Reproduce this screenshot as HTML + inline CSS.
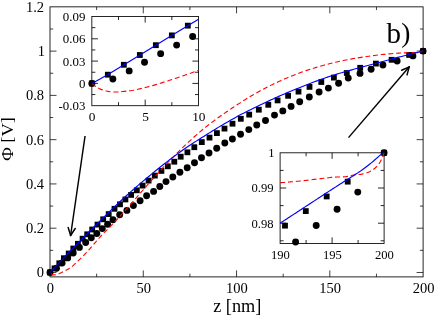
<!DOCTYPE html>
<html><head><meta charset="utf-8"><title>chart</title>
<style>html,body{margin:0;padding:0;background:#fff;}body{width:436px;height:316px;position:relative;overflow:hidden;font-family:"Liberation Serif",serif;}</style></head>
<body>
<svg width="436" height="316" viewBox="0 0 436 316" style="position:absolute;left:0;top:0;will-change:transform;font-family:'Liberation Serif',serif;">
<rect x="0" y="0" width="436" height="316" fill="#fff"/>
<rect x="50.0" y="6.85" width="373.10" height="270.05" fill="none" stroke="#000" stroke-width="0.85"/>
<line x1="50.00" y1="272.47" x2="56.50" y2="272.47" stroke="#000" stroke-width="0.75" />
<line x1="423.10" y1="272.47" x2="416.60" y2="272.47" stroke="#000" stroke-width="0.75" />
<line x1="50.00" y1="250.34" x2="53.20" y2="250.34" stroke="#000" stroke-width="0.75" />
<line x1="423.10" y1="250.34" x2="419.90" y2="250.34" stroke="#000" stroke-width="0.75" />
<line x1="50.00" y1="228.20" x2="56.50" y2="228.20" stroke="#000" stroke-width="0.75" />
<line x1="423.10" y1="228.20" x2="416.60" y2="228.20" stroke="#000" stroke-width="0.75" />
<line x1="50.00" y1="206.07" x2="53.20" y2="206.07" stroke="#000" stroke-width="0.75" />
<line x1="423.10" y1="206.07" x2="419.90" y2="206.07" stroke="#000" stroke-width="0.75" />
<line x1="50.00" y1="183.93" x2="56.50" y2="183.93" stroke="#000" stroke-width="0.75" />
<line x1="423.10" y1="183.93" x2="416.60" y2="183.93" stroke="#000" stroke-width="0.75" />
<line x1="50.00" y1="161.80" x2="53.20" y2="161.80" stroke="#000" stroke-width="0.75" />
<line x1="423.10" y1="161.80" x2="419.90" y2="161.80" stroke="#000" stroke-width="0.75" />
<line x1="50.00" y1="139.66" x2="56.50" y2="139.66" stroke="#000" stroke-width="0.75" />
<line x1="423.10" y1="139.66" x2="416.60" y2="139.66" stroke="#000" stroke-width="0.75" />
<line x1="50.00" y1="117.53" x2="53.20" y2="117.53" stroke="#000" stroke-width="0.75" />
<line x1="423.10" y1="117.53" x2="419.90" y2="117.53" stroke="#000" stroke-width="0.75" />
<line x1="50.00" y1="95.39" x2="56.50" y2="95.39" stroke="#000" stroke-width="0.75" />
<line x1="423.10" y1="95.39" x2="416.60" y2="95.39" stroke="#000" stroke-width="0.75" />
<line x1="50.00" y1="73.25" x2="53.20" y2="73.25" stroke="#000" stroke-width="0.75" />
<line x1="423.10" y1="73.25" x2="419.90" y2="73.25" stroke="#000" stroke-width="0.75" />
<line x1="50.00" y1="51.12" x2="56.50" y2="51.12" stroke="#000" stroke-width="0.75" />
<line x1="423.10" y1="51.12" x2="416.60" y2="51.12" stroke="#000" stroke-width="0.75" />
<line x1="50.00" y1="28.99" x2="53.20" y2="28.99" stroke="#000" stroke-width="0.75" />
<line x1="423.10" y1="28.99" x2="419.90" y2="28.99" stroke="#000" stroke-width="0.75" />
<line x1="96.64" y1="276.90" x2="96.64" y2="273.70" stroke="#000" stroke-width="0.75" />
<line x1="96.64" y1="6.85" x2="96.64" y2="10.05" stroke="#000" stroke-width="0.75" />
<line x1="143.28" y1="276.90" x2="143.28" y2="270.40" stroke="#000" stroke-width="0.75" />
<line x1="143.28" y1="6.85" x2="143.28" y2="13.35" stroke="#000" stroke-width="0.75" />
<line x1="189.91" y1="276.90" x2="189.91" y2="273.70" stroke="#000" stroke-width="0.75" />
<line x1="189.91" y1="6.85" x2="189.91" y2="10.05" stroke="#000" stroke-width="0.75" />
<line x1="236.55" y1="276.90" x2="236.55" y2="270.40" stroke="#000" stroke-width="0.75" />
<line x1="236.55" y1="6.85" x2="236.55" y2="13.35" stroke="#000" stroke-width="0.75" />
<line x1="283.19" y1="276.90" x2="283.19" y2="273.70" stroke="#000" stroke-width="0.75" />
<line x1="283.19" y1="6.85" x2="283.19" y2="10.05" stroke="#000" stroke-width="0.75" />
<line x1="329.82" y1="276.90" x2="329.82" y2="270.40" stroke="#000" stroke-width="0.75" />
<line x1="329.82" y1="6.85" x2="329.82" y2="13.35" stroke="#000" stroke-width="0.75" />
<line x1="376.46" y1="276.90" x2="376.46" y2="273.70" stroke="#000" stroke-width="0.75" />
<line x1="376.46" y1="6.85" x2="376.46" y2="10.05" stroke="#000" stroke-width="0.75" />
<text x="44.1" y="277.37" font-size="14.5" text-anchor="end" fill="#000">0</text>
<text x="44.1" y="233.10" font-size="14.5" text-anchor="end" fill="#000">0.2</text>
<text x="44.1" y="188.83" font-size="14.5" text-anchor="end" fill="#000">0.4</text>
<text x="44.1" y="144.56" font-size="14.5" text-anchor="end" fill="#000">0.6</text>
<text x="44.1" y="100.29" font-size="14.5" text-anchor="end" fill="#000">0.8</text>
<text x="44.9" y="56.02" font-size="14.5" text-anchor="end" fill="#000">1</text>
<text x="44.1" y="11.75" font-size="14.5" text-anchor="end" fill="#000">1.2</text>
<text x="50.40" y="293.0" font-size="14.5" text-anchor="middle" fill="#000">0</text>
<text x="143.68" y="293.0" font-size="14.5" text-anchor="middle" fill="#000">50</text>
<text x="236.95" y="293.0" font-size="14.5" text-anchor="middle" fill="#000">100</text>
<text x="330.22" y="293.0" font-size="14.5" text-anchor="middle" fill="#000">150</text>
<text x="423.50" y="293.0" font-size="14.5" text-anchor="middle" fill="#000">200</text>
<text x="237.3" y="311.7" font-size="18.3" text-anchor="middle" fill="#000">z [nm]</text>
<text transform="translate(12.65,139.0) rotate(-90) scale(1.05,1)" font-size="17.6" text-anchor="middle" fill="#000">&#934; [V]</text>
<text x="386.6" y="43.0" font-size="29" fill="#000">b</text>
<text x="401.3" y="42.2" font-size="27.5" fill="#000">)</text>
<rect x="47.10" y="269.57" width="5.8" height="5.8" fill="#000"/>
<rect x="51.60" y="265.50" width="5.8" height="5.8" fill="#000"/>
<rect x="56.40" y="260.40" width="5.8" height="5.8" fill="#000"/>
<rect x="61.00" y="255.30" width="5.8" height="5.8" fill="#000"/>
<rect x="65.80" y="250.60" width="5.8" height="5.8" fill="#000"/>
<rect x="70.40" y="245.60" width="5.8" height="5.8" fill="#000"/>
<rect x="75.00" y="240.90" width="5.8" height="5.8" fill="#000"/>
<rect x="79.70" y="235.80" width="5.8" height="5.8" fill="#000"/>
<rect x="84.30" y="231.40" width="5.8" height="5.8" fill="#000"/>
<rect x="89.30" y="226.60" width="5.8" height="5.8" fill="#000"/>
<rect x="94.60" y="221.70" width="5.8" height="5.8" fill="#000"/>
<rect x="100.30" y="216.40" width="5.8" height="5.8" fill="#000"/>
<rect x="105.80" y="211.20" width="5.8" height="5.8" fill="#000"/>
<rect x="111.60" y="205.90" width="5.8" height="5.8" fill="#000"/>
<rect x="117.10" y="201.40" width="5.8" height="5.8" fill="#000"/>
<rect x="122.50" y="196.55" width="5.8" height="5.8" fill="#000"/>
<rect x="128.20" y="192.00" width="5.8" height="5.8" fill="#000"/>
<rect x="133.90" y="187.40" width="5.8" height="5.8" fill="#000"/>
<rect x="139.70" y="182.70" width="5.8" height="5.8" fill="#000"/>
<rect x="145.70" y="177.70" width="5.8" height="5.8" fill="#000"/>
<rect x="151.90" y="172.70" width="5.8" height="5.8" fill="#000"/>
<rect x="158.50" y="168.00" width="5.8" height="5.8" fill="#000"/>
<rect x="164.90" y="163.40" width="5.8" height="5.8" fill="#000"/>
<rect x="171.40" y="158.80" width="5.8" height="5.8" fill="#000"/>
<rect x="177.80" y="153.80" width="5.8" height="5.8" fill="#000"/>
<rect x="184.50" y="149.40" width="5.8" height="5.8" fill="#000"/>
<rect x="191.40" y="144.30" width="5.8" height="5.8" fill="#000"/>
<rect x="198.90" y="139.20" width="5.8" height="5.8" fill="#000"/>
<rect x="206.60" y="134.70" width="5.8" height="5.8" fill="#000"/>
<rect x="214.00" y="130.20" width="5.8" height="5.8" fill="#000"/>
<rect x="221.60" y="125.70" width="5.8" height="5.8" fill="#000"/>
<rect x="229.60" y="120.80" width="5.8" height="5.8" fill="#000"/>
<rect x="237.90" y="115.90" width="5.8" height="5.8" fill="#000"/>
<rect x="246.30" y="111.70" width="5.8" height="5.8" fill="#000"/>
<rect x="255.90" y="106.80" width="5.8" height="5.8" fill="#000"/>
<rect x="265.40" y="101.90" width="5.8" height="5.8" fill="#000"/>
<rect x="274.70" y="97.50" width="5.8" height="5.8" fill="#000"/>
<rect x="285.20" y="92.90" width="5.8" height="5.8" fill="#000"/>
<rect x="295.60" y="88.70" width="5.8" height="5.8" fill="#000"/>
<rect x="306.60" y="84.00" width="5.8" height="5.8" fill="#000"/>
<rect x="318.40" y="79.10" width="5.8" height="5.8" fill="#000"/>
<rect x="331.00" y="74.70" width="5.8" height="5.8" fill="#000"/>
<rect x="343.90" y="70.10" width="5.8" height="5.8" fill="#000"/>
<rect x="357.30" y="64.90" width="5.8" height="5.8" fill="#000"/>
<rect x="373.00" y="60.70" width="5.8" height="5.8" fill="#000"/>
<rect x="388.70" y="56.90" width="5.8" height="5.8" fill="#000"/>
<rect x="406.20" y="52.00" width="5.8" height="5.8" fill="#000"/>
<rect x="420.20" y="48.20" width="5.8" height="5.8" fill="#000"/>
<circle cx="50.00" cy="272.47" r="3.45" fill="#000"/>
<circle cx="56.50" cy="268.20" r="3.45" fill="#000"/>
<circle cx="62.10" cy="263.00" r="3.45" fill="#000"/>
<circle cx="67.70" cy="257.90" r="3.45" fill="#000"/>
<circle cx="73.20" cy="253.00" r="3.45" fill="#000"/>
<circle cx="79.40" cy="247.40" r="3.45" fill="#000"/>
<circle cx="85.70" cy="242.50" r="3.45" fill="#000"/>
<circle cx="91.30" cy="237.70" r="3.45" fill="#000"/>
<circle cx="96.80" cy="233.50" r="3.45" fill="#000"/>
<circle cx="102.30" cy="228.60" r="3.45" fill="#000"/>
<circle cx="107.60" cy="224.20" r="3.45" fill="#000"/>
<circle cx="113.00" cy="219.70" r="3.45" fill="#000"/>
<circle cx="119.70" cy="214.80" r="3.45" fill="#000"/>
<circle cx="126.90" cy="210.40" r="3.45" fill="#000"/>
<circle cx="133.40" cy="205.60" r="3.45" fill="#000"/>
<circle cx="140.10" cy="200.70" r="3.45" fill="#000"/>
<circle cx="146.60" cy="195.80" r="3.45" fill="#000"/>
<circle cx="153.60" cy="191.40" r="3.45" fill="#000"/>
<circle cx="159.80" cy="186.50" r="3.45" fill="#000"/>
<circle cx="166.00" cy="181.60" r="3.45" fill="#000"/>
<circle cx="172.80" cy="177.00" r="3.45" fill="#000"/>
<circle cx="179.90" cy="172.30" r="3.45" fill="#000"/>
<circle cx="187.20" cy="167.70" r="3.45" fill="#000"/>
<circle cx="194.50" cy="162.80" r="3.45" fill="#000"/>
<circle cx="201.50" cy="157.80" r="3.45" fill="#000"/>
<circle cx="209.00" cy="153.00" r="3.45" fill="#000"/>
<circle cx="216.70" cy="148.20" r="3.45" fill="#000"/>
<circle cx="224.80" cy="143.00" r="3.45" fill="#000"/>
<circle cx="232.40" cy="139.00" r="3.45" fill="#000"/>
<circle cx="240.55" cy="134.20" r="3.45" fill="#000"/>
<circle cx="248.80" cy="129.60" r="3.45" fill="#000"/>
<circle cx="256.75" cy="125.00" r="3.45" fill="#000"/>
<circle cx="265.50" cy="120.50" r="3.45" fill="#000"/>
<circle cx="274.50" cy="115.10" r="3.45" fill="#000"/>
<circle cx="282.80" cy="110.90" r="3.45" fill="#000"/>
<circle cx="291.10" cy="106.40" r="3.45" fill="#000"/>
<circle cx="299.70" cy="101.80" r="3.45" fill="#000"/>
<circle cx="309.30" cy="97.00" r="3.45" fill="#000"/>
<circle cx="319.10" cy="92.00" r="3.45" fill="#000"/>
<circle cx="328.40" cy="88.10" r="3.45" fill="#000"/>
<circle cx="338.60" cy="83.20" r="3.45" fill="#000"/>
<circle cx="348.25" cy="78.10" r="3.45" fill="#000"/>
<circle cx="360.00" cy="73.40" r="3.45" fill="#000"/>
<circle cx="371.10" cy="69.20" r="3.45" fill="#000"/>
<circle cx="382.90" cy="65.05" r="3.45" fill="#000"/>
<circle cx="397.15" cy="61.00" r="3.45" fill="#000"/>
<circle cx="412.90" cy="55.90" r="3.45" fill="#000"/>
<circle cx="423.10" cy="51.10" r="3.45" fill="#000"/>
<path d="M50.00,272.47 L51.87,274.19 L53.75,274.90 L55.62,274.74 L57.50,274.33 L59.37,273.55 L61.25,272.67 L63.12,271.75 L65.00,270.80 L66.87,269.84 L68.75,268.81 L70.62,267.60 L72.50,266.10 L74.37,264.40 L76.25,262.61 L78.12,260.82 L80.00,259.04 L81.87,257.21 L83.75,255.33 L85.62,253.40 L87.50,251.38 L89.37,249.28 L91.25,247.13 L93.12,244.97 L95.00,242.84 L96.87,240.67 L98.75,238.51 L100.62,236.39 L102.50,234.36 L104.37,232.43 L106.25,230.56 L108.12,228.70 L110.00,226.80 L111.87,224.87 L113.75,222.92 L115.62,220.96 L117.50,218.96 L119.37,216.93 L121.25,214.84 L123.12,212.73 L124.99,210.62 L126.87,208.50 L128.74,206.39 L130.62,204.26 L132.49,202.13 L134.37,200.00 L136.24,197.87 L138.12,195.73 L139.99,193.59 L141.87,191.45 L143.74,189.29 L145.62,187.13 L147.49,184.96 L149.37,182.81 L151.24,180.68 L153.12,178.56 L154.99,176.45 L156.87,174.36 L158.74,172.29 L160.62,170.24 L162.49,168.20 L164.37,166.18 L166.24,164.19 L168.12,162.21 L169.99,160.25 L171.87,158.32 L173.74,156.40 L175.62,154.51 L177.49,152.63 L179.37,150.78 L181.24,148.94 L183.12,147.14 L184.99,145.35 L186.87,143.59 L188.74,141.85 L190.62,140.13 L192.49,138.42 L194.37,136.74 L196.24,135.08 L198.12,133.45 L199.99,131.84 L201.86,130.26 L203.74,128.71 L205.61,127.19 L207.49,125.70 L209.36,124.25 L211.24,122.83 L213.11,121.42 L214.99,120.03 L216.86,118.66 L218.74,117.30 L220.61,115.96 L222.49,114.64 L224.36,113.34 L226.24,112.06 L228.11,110.79 L229.99,109.53 L231.86,108.28 L233.74,107.03 L235.61,105.80 L237.49,104.57 L239.36,103.35 L241.24,102.14 L243.11,100.93 L244.99,99.74 L246.86,98.58 L248.74,97.43 L250.61,96.29 L252.49,95.18 L254.36,94.09 L256.24,93.02 L258.11,91.97 L259.99,90.94 L261.86,89.93 L263.74,88.94 L265.61,87.96 L267.49,86.99 L269.36,86.05 L271.24,85.12 L273.11,84.21 L274.98,83.31 L276.86,82.43 L278.73,81.57 L280.61,80.72 L282.48,79.88 L284.36,79.06 L286.23,78.26 L288.11,77.47 L289.98,76.70 L291.86,75.94 L293.73,75.19 L295.61,74.46 L297.48,73.74 L299.36,73.04 L301.23,72.35 L303.11,71.68 L304.98,71.02 L306.86,70.37 L308.73,69.74 L310.61,69.12 L312.48,68.52 L314.36,67.93 L316.23,67.36 L318.11,66.80 L319.98,66.25 L321.86,65.72 L323.73,65.20 L325.61,64.70 L327.48,64.21 L329.36,63.73 L331.23,63.26 L333.11,62.80 L334.98,62.36 L336.86,61.93 L338.73,61.51 L340.61,61.10 L342.48,60.71 L344.36,60.33 L346.23,59.95 L348.11,59.59 L349.98,59.24 L351.85,58.91 L353.73,58.58 L355.60,58.26 L357.48,57.95 L359.35,57.65 L361.23,57.35 L363.10,57.05 L364.98,56.77 L366.85,56.49 L368.73,56.22 L370.60,55.95 L372.48,55.70 L374.35,55.45 L376.23,55.22 L378.10,54.99 L379.98,54.77 L381.85,54.56 L383.73,54.37 L385.60,54.18 L387.48,54.00 L389.35,53.84 L391.23,53.68 L393.10,53.52 L394.98,53.38 L396.85,53.25 L398.73,53.15 L400.60,53.05 L402.48,52.97 L404.35,52.90 L406.23,52.83 L408.10,52.78 L409.98,52.73 L411.85,52.69 L413.73,52.65 L415.60,52.60 L417.48,52.37 L419.35,52.03 L421.23,51.63 L423.10,51.10" fill="none" stroke="#ff0000" stroke-width="1.1" stroke-dasharray="4.9,2.81" stroke-dashoffset="-1.82"/>
<path d="M50.00,272.47 L51.87,270.48 L53.75,268.49 L55.62,266.51 L57.50,264.52 L59.37,262.55 L61.25,260.57 L63.12,258.60 L65.00,256.63 L66.87,254.67 L68.75,252.71 L70.62,250.76 L72.50,248.81 L74.37,246.86 L76.25,244.92 L78.12,242.99 L80.00,241.06 L81.87,239.14 L83.75,237.23 L85.62,235.32 L87.50,233.41 L89.37,231.52 L91.25,229.63 L93.12,227.75 L95.00,225.87 L96.87,224.00 L98.75,222.14 L100.62,220.29 L102.50,218.45 L104.37,216.61 L106.25,214.79 L108.12,212.97 L110.00,211.16 L111.87,209.36 L113.75,207.57 L115.62,205.78 L117.50,204.01 L119.37,202.25 L121.25,200.50 L123.12,198.75 L124.99,197.01 L126.87,195.29 L128.74,193.58 L130.62,191.90 L132.49,190.24 L134.37,188.60 L136.24,186.98 L138.12,185.37 L139.99,183.77 L141.87,182.18 L143.74,180.61 L145.62,179.05 L147.49,177.49 L149.37,175.94 L151.24,174.39 L153.12,172.85 L154.99,171.31 L156.87,169.78 L158.74,168.26 L160.62,166.76 L162.49,165.28 L164.37,163.81 L166.24,162.35 L168.12,160.91 L169.99,159.48 L171.87,158.06 L173.74,156.65 L175.62,155.26 L177.49,153.88 L179.37,152.52 L181.24,151.17 L183.12,149.84 L184.99,148.52 L186.87,147.22 L188.74,145.94 L190.62,144.69 L192.49,143.48 L194.37,142.30 L196.24,141.13 L198.12,139.97 L199.99,138.80 L201.86,137.61 L203.74,136.42 L205.61,135.23 L207.49,134.05 L209.36,132.87 L211.24,131.71 L213.11,130.55 L214.99,129.40 L216.86,128.26 L218.74,127.13 L220.61,126.01 L222.49,124.90 L224.36,123.80 L226.24,122.71 L228.11,121.63 L229.99,120.56 L231.86,119.50 L233.74,118.43 L235.61,117.38 L237.49,116.35 L239.36,115.34 L241.24,114.35 L243.11,113.39 L244.99,112.45 L246.86,111.52 L248.74,110.59 L250.61,109.66 L252.49,108.74 L254.36,107.82 L256.24,106.90 L258.11,105.99 L259.99,105.08 L261.86,104.18 L263.74,103.29 L265.61,102.40 L267.49,101.51 L269.36,100.64 L271.24,99.77 L273.11,98.91 L274.98,98.06 L276.86,97.22 L278.73,96.39 L280.61,95.57 L282.48,94.75 L284.36,93.94 L286.23,93.15 L288.11,92.35 L289.98,91.56 L291.86,90.78 L293.73,90.00 L295.61,89.22 L297.48,88.45 L299.36,87.69 L301.23,86.93 L303.11,86.18 L304.98,85.43 L306.86,84.69 L308.73,83.95 L310.61,83.23 L312.48,82.52 L314.36,81.81 L316.23,81.11 L318.11,80.42 L319.98,79.74 L321.86,79.08 L323.73,78.42 L325.61,77.78 L327.48,77.14 L329.36,76.52 L331.23,75.90 L333.11,75.30 L334.98,74.70 L336.86,74.11 L338.73,73.54 L340.61,72.97 L342.48,72.43 L344.36,71.90 L346.23,71.38 L348.11,70.86 L349.98,70.34 L351.85,69.83 L353.73,69.31 L355.60,68.81 L357.48,68.30 L359.35,67.79 L361.23,67.28 L363.10,66.77 L364.98,66.27 L366.85,65.76 L368.73,65.25 L370.60,64.75 L372.48,64.24 L374.35,63.74 L376.23,63.24 L378.10,62.74 L379.98,62.23 L381.85,61.72 L383.73,61.21 L385.60,60.70 L387.48,60.19 L389.35,59.68 L391.23,59.17 L393.10,58.67 L394.98,58.17 L396.85,57.67 L398.73,57.18 L400.60,56.69 L402.48,56.20 L404.35,55.72 L406.23,55.25 L408.10,54.77 L409.98,54.31 L411.85,53.84 L413.73,53.37 L415.60,52.91 L417.48,52.46 L419.35,52.00 L421.23,51.55 L423.10,51.10" fill="none" stroke="#0000ff" stroke-width="1.15"/>
<line x1="85.05" y1="136.0" x2="70.6" y2="235.5" stroke="#000" stroke-width="1.45"/>
<line x1="70.6" y1="235.5" x2="75.21" y2="228.48" stroke="#000" stroke-width="1.45" stroke-linecap="round"/>
<line x1="70.6" y1="235.5" x2="68.18" y2="227.46" stroke="#000" stroke-width="1.45" stroke-linecap="round"/>
<line x1="348.5" y1="137.6" x2="409.3" y2="66.8" stroke="#000" stroke-width="1.45"/>
<line x1="409.3" y1="66.8" x2="401.65" y2="70.26" stroke="#000" stroke-width="1.45" stroke-linecap="round"/>
<line x1="409.3" y1="66.8" x2="407.03" y2="74.89" stroke="#000" stroke-width="1.45" stroke-linecap="round"/>
<rect x="91.85" y="16.5" width="106.65" height="89.20" fill="#fff" stroke="#000" stroke-width="0.85"/>
<line x1="91.85" y1="94.55" x2="95.35" y2="94.55" stroke="#000" stroke-width="0.85" />
<line x1="198.50" y1="94.55" x2="195.00" y2="94.55" stroke="#000" stroke-width="0.85" />
<line x1="91.85" y1="83.40" x2="97.95" y2="83.40" stroke="#000" stroke-width="0.85" />
<line x1="198.50" y1="83.40" x2="192.40" y2="83.40" stroke="#000" stroke-width="0.85" />
<line x1="91.85" y1="72.25" x2="95.35" y2="72.25" stroke="#000" stroke-width="0.85" />
<line x1="198.50" y1="72.25" x2="195.00" y2="72.25" stroke="#000" stroke-width="0.85" />
<line x1="91.85" y1="61.10" x2="97.95" y2="61.10" stroke="#000" stroke-width="0.85" />
<line x1="198.50" y1="61.10" x2="192.40" y2="61.10" stroke="#000" stroke-width="0.85" />
<line x1="91.85" y1="49.95" x2="95.35" y2="49.95" stroke="#000" stroke-width="0.85" />
<line x1="198.50" y1="49.95" x2="195.00" y2="49.95" stroke="#000" stroke-width="0.85" />
<line x1="91.85" y1="38.80" x2="97.95" y2="38.80" stroke="#000" stroke-width="0.85" />
<line x1="198.50" y1="38.80" x2="192.40" y2="38.80" stroke="#000" stroke-width="0.85" />
<line x1="91.85" y1="27.65" x2="95.35" y2="27.65" stroke="#000" stroke-width="0.85" />
<line x1="198.50" y1="27.65" x2="195.00" y2="27.65" stroke="#000" stroke-width="0.85" />
<line x1="118.51" y1="105.70" x2="118.51" y2="102.20" stroke="#000" stroke-width="0.85" />
<line x1="118.51" y1="16.50" x2="118.51" y2="20.00" stroke="#000" stroke-width="0.85" />
<line x1="145.18" y1="105.70" x2="145.18" y2="99.60" stroke="#000" stroke-width="0.85" />
<line x1="145.18" y1="16.50" x2="145.18" y2="22.60" stroke="#000" stroke-width="0.85" />
<line x1="171.84" y1="105.70" x2="171.84" y2="102.20" stroke="#000" stroke-width="0.85" />
<line x1="171.84" y1="16.50" x2="171.84" y2="20.00" stroke="#000" stroke-width="0.85" />
<text x="85.4" y="20.90" font-size="12.9" text-anchor="end" fill="#000">0.09</text>
<text x="85.4" y="43.20" font-size="12.9" text-anchor="end" fill="#000">0.06</text>
<text x="85.4" y="65.50" font-size="12.9" text-anchor="end" fill="#000">0.03</text>
<text x="85.4" y="87.80" font-size="12.9" text-anchor="end" fill="#000">0</text>
<text x="85.4" y="110.10" font-size="12.9" text-anchor="end" fill="#000">-0.03</text>
<text x="92.15" y="121.3" font-size="13.3" text-anchor="middle" fill="#000">0</text>
<text x="145.48" y="121.3" font-size="13.3" text-anchor="middle" fill="#000">5</text>
<text x="198.80" y="121.3" font-size="13.3" text-anchor="middle" fill="#000">10</text>
<clipPath id="c1"><rect x="91.85" y="16.5" width="106.65" height="89.20"/></clipPath>
<rect x="88.95" y="80.50" width="5.8" height="5.8" fill="#000"/>
<rect x="104.95" y="71.79" width="5.8" height="5.8" fill="#000"/>
<rect x="120.94" y="61.90" width="5.8" height="5.8" fill="#000"/>
<rect x="136.94" y="52.10" width="5.8" height="5.8" fill="#000"/>
<rect x="152.94" y="42.27" width="5.8" height="5.8" fill="#000"/>
<rect x="168.94" y="32.48" width="5.8" height="5.8" fill="#000"/>
<rect x="184.93" y="22.75" width="5.8" height="5.8" fill="#000"/>
<circle cx="91.85" cy="83.40" r="3.45" fill="#000"/>
<circle cx="112.86" cy="79.01" r="3.45" fill="#000"/>
<circle cx="129.18" cy="70.91" r="3.45" fill="#000"/>
<circle cx="144.54" cy="62.29" r="3.45" fill="#000"/>
<circle cx="160.64" cy="53.67" r="3.45" fill="#000"/>
<circle cx="176.64" cy="45.12" r="3.45" fill="#000"/>
<circle cx="192.63" cy="36.57" r="3.45" fill="#000"/>
<path d="M91.85,83.40 L93.66,84.85 L95.47,86.21 L97.27,87.44 L99.08,88.51 L100.89,89.37 L102.70,89.99 L104.50,90.50 L106.31,90.97 L108.12,91.38 L109.93,91.71 L111.73,91.93 L113.54,92.02 L115.35,92.00 L117.16,91.94 L118.96,91.84 L120.77,91.70 L122.58,91.54 L124.39,91.36 L126.19,91.17 L128.00,90.96 L129.81,90.76 L131.62,90.51 L133.43,90.21 L135.23,89.86 L137.04,89.48 L138.85,89.07 L140.66,88.64 L142.46,88.20 L144.27,87.75 L146.08,87.30 L147.89,86.86 L149.69,86.38 L151.50,85.89 L153.31,85.37 L155.12,84.85 L156.92,84.30 L158.73,83.75 L160.54,83.19 L162.35,82.63 L164.16,82.06 L165.96,81.49 L167.77,80.92 L169.58,80.34 L171.39,79.74 L173.19,79.14 L175.00,78.53 L176.81,77.92 L178.62,77.30 L180.42,76.68 L182.23,76.06 L184.04,75.44 L185.85,74.82 L187.65,74.20 L189.46,73.57 L191.27,72.94 L193.08,72.31 L194.88,71.67 L196.69,71.03 L198.50,70.39" fill="none" stroke="#ff0000" stroke-width="1.1" stroke-dasharray="5,2.9" clip-path="url(#c1)"/>
<path d="M91.85,83.40 L100.00,79.10 L108.00,74.60 L124.00,64.70 L140.00,54.90 L170.00,36.50 L198.50,19.20" fill="none" stroke="#0000ff" stroke-width="1.15"/>
<rect x="280.1" y="152.8" width="104.00" height="90.70" fill="#fff" stroke="#000" stroke-width="0.85"/>
<line x1="280.10" y1="240.80" x2="283.60" y2="240.80" stroke="#000" stroke-width="0.85" />
<line x1="384.10" y1="240.80" x2="380.60" y2="240.80" stroke="#000" stroke-width="0.85" />
<line x1="280.10" y1="223.20" x2="286.20" y2="223.20" stroke="#000" stroke-width="0.85" />
<line x1="384.10" y1="223.20" x2="378.00" y2="223.20" stroke="#000" stroke-width="0.85" />
<line x1="280.10" y1="205.60" x2="283.60" y2="205.60" stroke="#000" stroke-width="0.85" />
<line x1="384.10" y1="205.60" x2="380.60" y2="205.60" stroke="#000" stroke-width="0.85" />
<line x1="280.10" y1="188.00" x2="286.20" y2="188.00" stroke="#000" stroke-width="0.85" />
<line x1="384.10" y1="188.00" x2="378.00" y2="188.00" stroke="#000" stroke-width="0.85" />
<line x1="280.10" y1="170.40" x2="283.60" y2="170.40" stroke="#000" stroke-width="0.85" />
<line x1="384.10" y1="170.40" x2="380.60" y2="170.40" stroke="#000" stroke-width="0.85" />
<line x1="306.10" y1="243.50" x2="306.10" y2="240.00" stroke="#000" stroke-width="0.85" />
<line x1="306.10" y1="152.80" x2="306.10" y2="156.30" stroke="#000" stroke-width="0.85" />
<line x1="332.10" y1="243.50" x2="332.10" y2="237.40" stroke="#000" stroke-width="0.85" />
<line x1="332.10" y1="152.80" x2="332.10" y2="158.90" stroke="#000" stroke-width="0.85" />
<line x1="358.10" y1="243.50" x2="358.10" y2="240.00" stroke="#000" stroke-width="0.85" />
<line x1="358.10" y1="152.80" x2="358.10" y2="156.30" stroke="#000" stroke-width="0.85" />
<text x="274.6" y="157.20" font-size="12.6" text-anchor="end" fill="#000">1</text>
<text x="273.5" y="192.40" font-size="12.6" text-anchor="end" fill="#000">0.99</text>
<text x="273.5" y="227.60" font-size="12.6" text-anchor="end" fill="#000">0.98</text>
<text x="280.40" y="258.7" font-size="12.6" text-anchor="middle" fill="#000">190</text>
<text x="332.40" y="258.7" font-size="12.6" text-anchor="middle" fill="#000">195</text>
<text x="384.40" y="258.7" font-size="12.6" text-anchor="middle" fill="#000">200</text>
<rect x="282.09" y="222.76" width="5.8" height="5.8" fill="#000"/>
<rect x="302.89" y="208.19" width="5.8" height="5.8" fill="#000"/>
<rect x="323.79" y="193.55" width="5.8" height="5.8" fill="#000"/>
<rect x="344.80" y="178.76" width="5.8" height="5.8" fill="#000"/>
<rect x="381.20" y="149.90" width="5.8" height="5.8" fill="#000"/>
<circle cx="295.60" cy="242.00" r="3.45" fill="#000"/>
<circle cx="316.19" cy="225.49" r="3.45" fill="#000"/>
<circle cx="337.09" cy="209.19" r="3.45" fill="#000"/>
<circle cx="357.79" cy="192.08" r="3.45" fill="#000"/>
<circle cx="384.10" cy="152.80" r="3.45" fill="#000"/>
<path d="M280.10,182.72 L281.42,182.63 L282.73,182.54 L284.05,182.44 L285.37,182.34 L286.68,182.24 L288.00,182.13 L289.32,182.02 L290.63,181.91 L291.95,181.80 L293.26,181.68 L294.58,181.56 L295.90,181.44 L297.21,181.32 L298.53,181.19 L299.85,181.06 L301.16,180.93 L302.48,180.80 L303.80,180.66 L305.11,180.51 L306.43,180.35 L307.75,180.19 L309.06,180.03 L310.38,179.87 L311.69,179.70 L313.01,179.53 L314.33,179.37 L315.64,179.20 L316.96,179.04 L318.28,178.88 L319.59,178.73 L320.91,178.58 L322.23,178.44 L323.54,178.29 L324.86,178.14 L326.18,177.99 L327.49,177.83 L328.81,177.69 L330.13,177.55 L331.44,177.41 L332.76,177.30 L334.07,177.20 L335.39,177.11 L336.71,177.05 L338.02,177.00 L339.34,176.97 L340.66,176.93 L341.97,176.89 L343.29,176.84 L344.61,176.75 L345.92,176.59 L347.24,176.37 L348.56,176.11 L349.87,175.82 L351.19,175.53 L352.51,175.26 L353.82,175.01 L355.14,174.82 L356.45,174.68 L357.77,174.58 L359.09,174.47 L360.40,174.35 L361.72,174.16 L363.04,173.91 L364.35,173.58 L365.67,173.20 L366.99,172.78 L368.30,172.27 L369.62,171.66 L370.94,170.95 L372.25,170.17 L373.57,169.29 L374.88,168.24 L376.20,167.02 L377.52,165.63 L378.83,163.94 L380.15,161.94 L381.47,159.54 L382.78,156.58 L384.10,152.80" fill="none" stroke="#ff0000" stroke-width="1.1" stroke-dasharray="5,2.9"/>
<path d="M280.10,223.20 L281.42,222.34 L282.73,221.48 L284.05,220.62 L285.37,219.77 L286.68,218.91 L288.00,218.05 L289.32,217.19 L290.63,216.33 L291.95,215.47 L293.26,214.61 L294.58,213.75 L295.90,212.90 L297.21,212.04 L298.53,211.18 L299.85,210.32 L301.16,209.46 L302.48,208.60 L303.80,207.74 L305.11,206.89 L306.43,206.03 L307.75,205.17 L309.06,204.31 L310.38,203.44 L311.69,202.58 L313.01,201.72 L314.33,200.86 L315.64,200.00 L316.96,199.13 L318.28,198.27 L319.59,197.41 L320.91,196.55 L322.23,195.68 L323.54,194.82 L324.86,193.96 L326.18,193.10 L327.49,192.25 L328.81,191.39 L330.13,190.53 L331.44,189.68 L332.76,188.83 L334.07,187.98 L335.39,187.13 L336.71,186.28 L338.02,185.44 L339.34,184.60 L340.66,183.76 L341.97,182.93 L343.29,182.09 L344.61,181.26 L345.92,180.42 L347.24,179.59 L348.56,178.75 L349.87,177.92 L351.19,177.09 L352.51,176.26 L353.82,175.42 L355.14,174.58 L356.45,173.73 L357.77,172.88 L359.09,172.02 L360.40,171.14 L361.72,170.22 L363.04,169.27 L364.35,168.30 L365.67,167.30 L366.99,166.30 L368.30,165.27 L369.62,164.23 L370.94,163.17 L372.25,162.08 L373.57,160.96 L374.88,159.78 L376.20,158.60 L377.52,157.45 L378.83,156.34 L380.15,155.18 L381.47,154.12 L382.78,153.31 L384.10,152.80" fill="none" stroke="#0000ff" stroke-width="1.15"/>
</svg>
</body></html>
